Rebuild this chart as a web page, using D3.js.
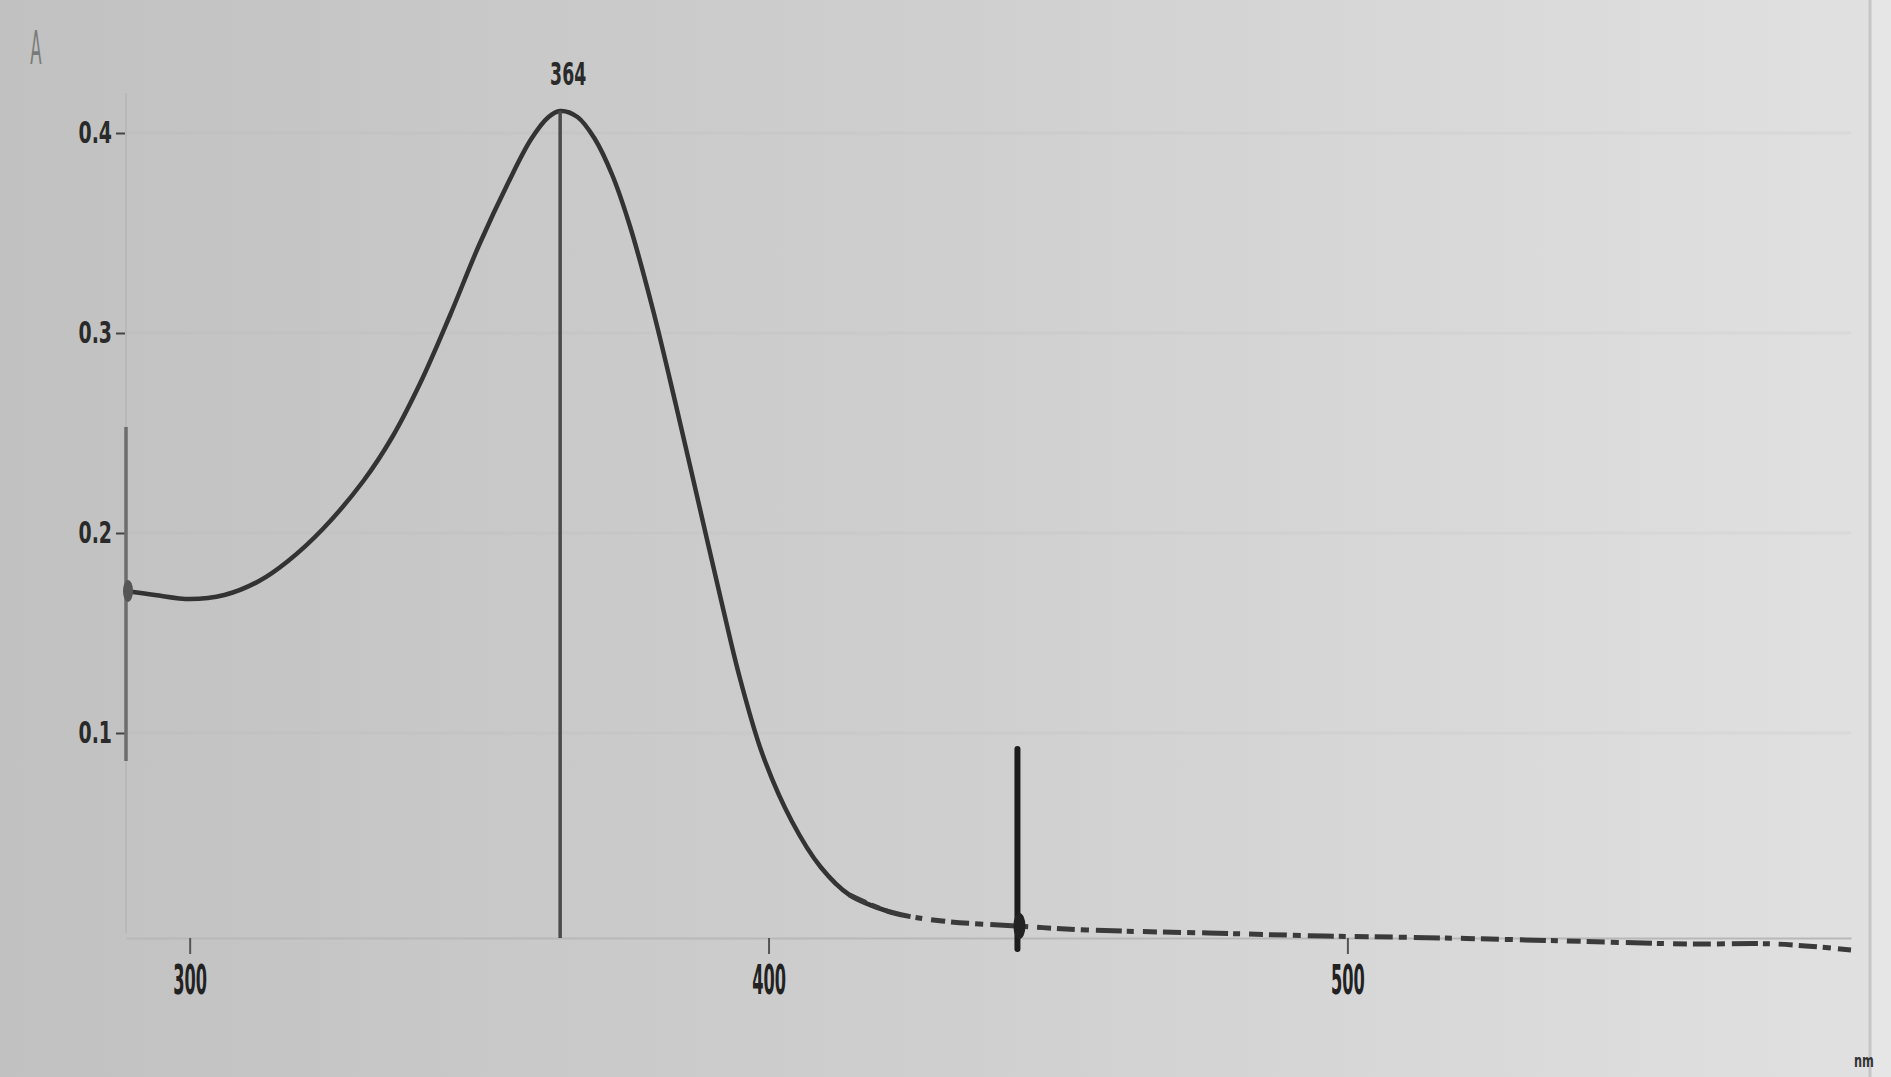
<!DOCTYPE html>
<html>
<head>
<meta charset="utf-8">
<script src="https://cdn.jsdelivr.net/npm/d3@7"></script>
<style>
  body { margin: 0; background: #d0d0d0; overflow: hidden; }
  svg { display: block; }
</style>
</head>
<body>
<svg id="chart" width="1891" height="1077"></svg>
<script>
// Absorption spectrum: wavelength (nm) against absorbance
const wavelengths = [289, 294, 300, 306, 312, 317, 323, 330, 335, 340, 345, 350, 355, 359, 362, 364,
                     367, 370, 373, 376, 380, 384, 388, 392, 395, 399, 404, 409, 414, 421, 430, 443,
                     455, 476, 496, 517, 538, 559, 574, 587];
const absorbance  = [0.171, 0.169, 0.167, 0.169, 0.176, 0.186, 0.202, 0.226, 0.248, 0.276, 0.309, 0.344,
                     0.375, 0.397, 0.408, 0.411, 0.408, 0.397, 0.379, 0.354, 0.312, 0.264, 0.214, 0.164,
                     0.128, 0.089, 0.056, 0.033, 0.019, 0.0105, 0.006, 0.0035, 0.0015, 0.0, -0.0015,
                     -0.0025, -0.004, -0.0055, -0.0055, -0.0085];

const peakWavelength = 364;          // λmax, labelled above the peak
const peakLabel = "364";
const cursorWavelength = 443;        // measuring cursor on the baseline
const cursorTop = 0.092;
const startCursorRange = [0.086, 0.253];

const xTicks = [300, 400, 500];
const yTicks = [0.1, 0.2, 0.3, 0.4];
const yTickLabels = ["0.1", "0.2", "0.3", "0.4"];
const xDomain = [289, 587];
const yDomain = [0, 0.4];
const yAxisTitle = "A";
const xAxisUnit = "nm";

const W = 1891, H = 1077;
const svg = d3.select("#chart");

// background: grey screen, darker on the left
const defs = svg.append("defs");
const grad = defs.append("linearGradient").attr("id", "bg").attr("x1", 0).attr("x2", 1).attr("y1", 0).attr("y2", 0);
grad.append("stop").attr("offset", 0).attr("stop-color", "#c1c1c1");
grad.append("stop").attr("offset", 0.5).attr("stop-color", "#cfcfcf");
grad.append("stop").attr("offset", 1).attr("stop-color", "#e1e1e1");
svg.append("rect").attr("width", W).attr("height", H).attr("fill", "url(#bg)");

// right frame edge
svg.append("rect").attr("x", 1871).attr("y", 0).attr("width", 20).attr("height", H).attr("fill", "#e6e6e6");
svg.append("line").attr("x1", 1870).attr("x2", 1870).attr("y1", 0).attr("y2", H)
  .attr("stroke", "#c6c6c6").attr("stroke-width", 3);

const x = d3.scaleLinear().domain(xDomain).range([126, 1851]);
const y = d3.scaleLinear().domain(yDomain).range([933, 133]);

const condensed = "'DejaVu Sans Condensed', 'DejaVu Sans', sans-serif";

// faint horizontal guides at the absorbance ticks
svg.append("g").selectAll("line").data(yTicks).join("line")
  .attr("x1", x(xDomain[0])).attr("x2", x(xDomain[1]))
  .attr("y1", d => y(d)).attr("y2", d => y(d))
  .attr("stroke", "#a9a9a9").attr("stroke-opacity", 0.12).attr("stroke-width", 3);

// x axis
const xAxisY = y(-0.0025);
const gx = svg.append("g").attr("transform", `translate(0,${xAxisY})`)
  .call(d3.axisBottom(x).tickValues(xTicks).tickSize(16).tickSizeOuter(0).tickPadding(12)
    .tickFormat(d3.format("d")));
gx.select(".domain").attr("stroke", "#b8b8b8").attr("stroke-width", 2);
gx.selectAll(".tick line").attr("stroke", "#555").attr("stroke-width", 2);
gx.selectAll(".tick text")
  .attr("fill", "#222").attr("font-family", condensed).attr("font-size", 40).attr("font-weight", "bold")
  .attr("transform", "scale(0.45,1)");

// y axis
const gy = svg.append("g").attr("transform", `translate(${x(xDomain[0])},0)`)
  .call(d3.axisLeft(y).tickValues(yTicks).tickSize(10).tickPadding(4).tickFormat((d, i) => yTickLabels[i]));
gy.select(".domain").remove();
gy.append("line").attr("x1", 0).attr("x2", 0).attr("y1", y(0)).attr("y2", y(0.42))
  .attr("stroke", "#b8b8b8").attr("stroke-width", 2);
gy.selectAll(".tick line").attr("stroke", "#444").attr("stroke-width", 2);
gy.selectAll(".tick text")
  .attr("fill", "#2a2a2a").attr("font-family", condensed).attr("font-size", 30).attr("font-weight", "bold")
  .each(function () {
    const t = d3.select(this);
    const xv = +t.attr("x");
    t.attr("x", xv / 0.7).attr("transform", "scale(0.7,1)");
  });

// cursor on the left edge of the scan
svg.append("line")
  .attr("x1", x(xDomain[0])).attr("x2", x(xDomain[0]))
  .attr("y1", y(startCursorRange[0])).attr("y2", y(startCursorRange[1]))
  .attr("stroke", "#6c6c6c").attr("stroke-width", 3.5);

// spectrum trace
const pts = wavelengths.map((w, i) => [w, absorbance[i]]);
const line = d3.line().x(d => x(d[0])).y(d => y(d[1])).curve(d3.curveCatmullRom.alpha(0.5));
const splitAt = 415;
svg.append("path").datum(pts.filter(d => d[0] <= splitAt + 6))
  .attr("d", line).attr("fill", "none")
  .attr("stroke", "#333").attr("stroke-width", 4.5).attr("stroke-linejoin", "round");
svg.append("path").datum(pts.filter(d => d[0] >= splitAt - 2))
  .attr("d", line).attr("fill", "none")
  .attr("stroke", "#3a3a3a").attr("stroke-width", 5)
  .attr("stroke-dasharray", "18 6 8 7 26 5 7 9 14 6");

// start-of-scan blob
svg.append("ellipse").attr("cx", x(xDomain[0]) + 2).attr("cy", y(absorbance[0]))
  .attr("rx", 5).attr("ry", 11).attr("fill", "#555");

// peak marker
const peakA = absorbance[wavelengths.indexOf(peakWavelength)];
svg.append("line")
  .attr("x1", x(peakWavelength)).attr("x2", x(peakWavelength))
  .attr("y1", y(peakA)).attr("y2", xAxisY)
  .attr("stroke", "#4a4a4a").attr("stroke-width", 3.5);
svg.append("text")
  .attr("x", (x(peakWavelength) + 8) / 0.6).attr("y", y(peakA) - 26)
  .attr("transform", "scale(0.6,1)")
  .attr("text-anchor", "middle").attr("font-family", condensed).attr("font-size", 32).attr("font-weight", "bold")
  .attr("fill", "#2a2a2a").text(peakLabel);

// measuring cursor
const cursorA = absorbance[wavelengths.indexOf(cursorWavelength)];
svg.append("line")
  .attr("x1", x(cursorWavelength)).attr("x2", x(cursorWavelength))
  .attr("y1", y(cursorTop)).attr("y2", y(-0.008))
  .attr("stroke", "#1c1c1c").attr("stroke-width", 6).attr("stroke-linecap", "round");
svg.append("ellipse").attr("cx", x(cursorWavelength) + 2).attr("cy", y(cursorA))
  .attr("rx", 6).attr("ry", 13).attr("fill", "#222");

// axis titles
svg.append("text").attr("x", 36 / 0.4).attr("y", 64).attr("transform", "scale(0.4,1)")
  .attr("text-anchor", "middle").attr("font-family", condensed).attr("font-size", 46)
  .attr("fill", "#7a7a7a").text(yAxisTitle);
svg.append("text").attr("x", 1864 / 0.7).attr("y", 1067).attr("transform", "scale(0.7,1)")
  .attr("text-anchor", "middle").attr("font-family", condensed).attr("font-size", 18).attr("font-weight", "bold")
  .attr("fill", "#333").text(xAxisUnit);
</script>
</body>
</html>
